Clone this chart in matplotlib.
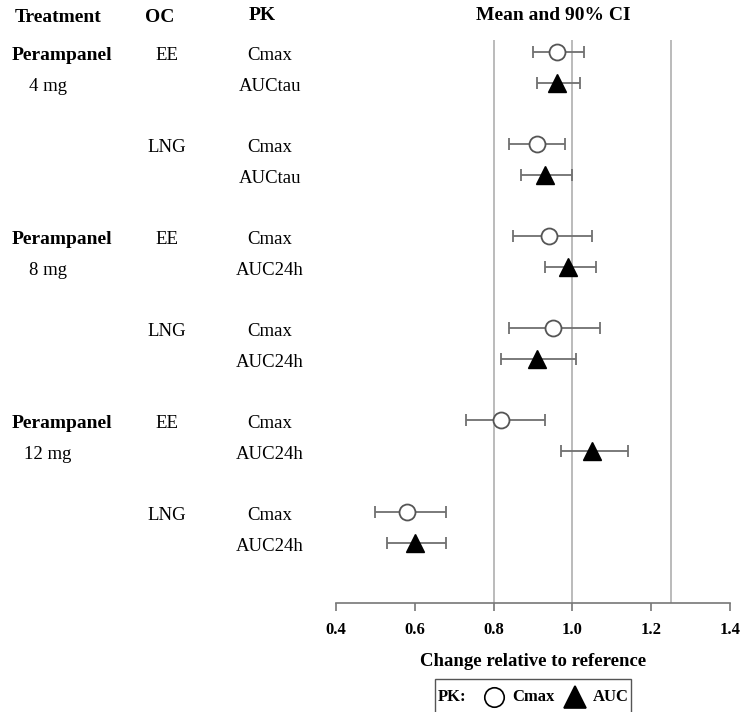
import matplotlib
matplotlib.use("Agg")
import matplotlib.pyplot as plt
from matplotlib.transforms import blended_transform_factory
from matplotlib.offsetbox import (AnchoredOffsetbox, HPacker, VPacker,
                                  TextArea, DrawingArea)
from matplotlib.lines import Line2D
import numpy as np

plt.rcParams['font.family'] = ['Liberation Serif', 'DejaVu Serif']

# ---- data -------------------------------------------------------------
treatments = ["Perampanel", "Perampanel", "Perampanel"]
doses = ["4 mg", "8 mg", "12 mg"]
oc_labels = ["EE", "LNG", "EE", "LNG", "EE", "LNG"]
auc_labels = ["AUCtau", "AUCtau", "AUC24h", "AUC24h", "AUC24h", "AUC24h"]

cmax_mean = [0.96, 0.91, 0.94, 0.95, 0.82, 0.58]
cmax_lo = [0.90, 0.84, 0.85, 0.84, 0.73, 0.50]
cmax_hi = [1.03, 0.98, 1.05, 1.07, 0.93, 0.68]

auc_mean = [0.96, 0.93, 0.99, 0.91, 1.05, 0.60]
auc_lo = [0.91, 0.87, 0.93, 0.82, 0.97, 0.53]
auc_hi = [1.02, 1.00, 1.06, 1.01, 1.14, 0.68]

ref_lines = [0.8, 1.0, 1.25]
xticks = [0.4, 0.6, 0.8, 1.0, 1.2, 1.4]

# ---- figure -----------------------------------------------------------
W, H = 740, 712
fig = plt.figure(figsize=(W / 100, H / 100), dpi=100)
ax = fig.add_axes([336 / W, 1 - 603 / H, (730 - 336) / W, (603 - 40) / H])

n = len(cmax_mean)
y_cmax = np.arange(n) * 3.0
y_auc = y_cmax + 1.0

err_color = "#707070"
for y, m, lo, hi, style in [
    (y_cmax, cmax_mean, cmax_lo, cmax_hi, "c"),
    (y_auc, auc_mean, auc_lo, auc_hi, "t"),
]:
    m = np.array(m)
    xerr = np.vstack([m - np.array(lo), np.array(hi) - m])
    ax.errorbar(m, y, xerr=xerr, fmt="none", ecolor=err_color,
                elinewidth=1.3, capsize=4.5, capthick=1.3, zorder=3)
    if style == "c":
        ax.plot(m, y, linestyle="none", marker="o", ms=11.5,
                mfc="white", mec="#555555", mew=1.3, zorder=4)
    else:
        ax.plot(m, y, linestyle="none", marker="^", ms=13,
                mfc="black", mec="black", zorder=4)

for xv in ref_lines:
    ax.axvline(xv, color="#b5b5b5", lw=1.3, zorder=1)

ax.set_xlim(0.4, 1.4)
ax.set_ylim(17.95, -0.4)
ax.set_xticks(xticks)
ax.set_xticklabels([f"{t:.1f}" for t in xticks], fontweight="bold",
                   fontsize=12)
ax.set_yticks([])
for s in ["top", "left", "right"]:
    ax.spines[s].set_visible(False)
ax.spines["bottom"].set_color("#777777")
ax.spines["bottom"].set_linewidth(1.2)
ax.tick_params(axis="x", direction="out", length=6, width=1.2,
               color="#777777", pad=8)
ax.set_xlabel("Change relative to reference", fontweight="bold",
              fontsize=13.5)
ax.xaxis.set_label_coords(0.5, -0.088)

# ---- row labels to the left of the axes -------------------------------
tr = blended_transform_factory(fig.transFigure, ax.transData)
for k in range(n):
    ax.text(167 / W, y_cmax[k] + 0.1, oc_labels[k], transform=tr,
            ha="center", va="center", fontsize=13.5)
    ax.text(270 / W, y_cmax[k] + 0.1, "Cmax", transform=tr,
            ha="center", va="center", fontsize=13.5)
    ax.text(270 / W, y_auc[k] + 0.1, auc_labels[k], transform=tr,
            ha="center", va="center", fontsize=13.5)

for g in range(len(doses)):
    ax.text(12 / W, y_cmax[2 * g] + 0.1, treatments[g], transform=tr,
            ha="left", va="center", fontsize=14, fontweight="bold")
    ax.text(48 / W, y_auc[2 * g] + 0.1, doses[g], transform=tr,
            ha="center", va="center", fontsize=13.5)

# ---- column headers ---------------------------------------------------
hdr = dict(fontsize=14, fontweight="bold", ha="center", va="center")
fig.text(58 / W, 1 - 18 / H, "Treatment", **hdr)
fig.text(160 / W, 1 - 18 / H, "OC", **hdr)
fig.text(262 / W, 1 - 15 / H, "PK", **hdr)
fig.text(553 / W, 1 - 15 / H, "Mean and 90% CI", **hdr)

# ---- legend -----------------------------------------------------------
lfont = dict(fontsize=12, fontweight="bold")
PX = 72 / 100  # pixels -> points


def marker_area(marker, ms, fc, ec, width_px, xc_px, h_px=30):
    h = h_px * PX
    da = DrawingArea(width_px * PX, h, 0, 0)
    da.add_artist(Line2D([xc_px * PX], [h / 2], marker=marker,
                         ms=ms, mfc=fc, mec=ec, mew=1.2, linestyle="none"))
    return da


items = [
    TextArea("PK:", textprops=lfont),
    marker_area("o", 14, "white", "black", 46, 28),
    TextArea("Cmax", textprops=lfont),
    marker_area("^", 16, "black", "black", 38, 20),
    TextArea("AUC", textprops=lfont),
]
row = HPacker(children=items, align="center", pad=0, sep=0)
# extra room below the entries so the frame runs past the figure edge
box = VPacker(children=[row, DrawingArea(1, 10 * PX, 0, 0)],
              align="center", pad=0, sep=0)
anch = AnchoredOffsetbox(loc="upper center", child=box, pad=0.2,
                         borderpad=0, frameon=True,
                         bbox_to_anchor=(0.5, -0.135),
                         bbox_transform=ax.transAxes)
anch.patch.set_edgecolor("#555555")
anch.patch.set_linewidth(1.0)
ax.add_artist(anch)

fig.savefig("out.png", dpi=100)
